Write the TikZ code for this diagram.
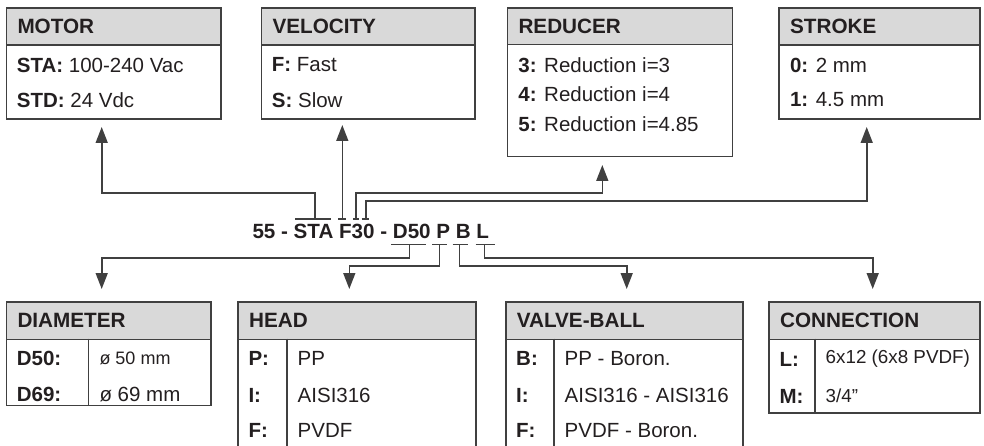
\documentclass[tikz,border=0pt]{standalone}
\usepackage{fontspec}
\setmainfont{Liberation Sans}
\usetikzlibrary{positioning,arrows.meta}
\definecolor{ink}{RGB}{35,31,32}
\definecolor{rulegray}{RGB}{64,64,64}
\definecolor{headgray}{RGB}{217,217,217}
\newcommand{\codefont}{\fontsize{20.6}{24}\selectfont\bfseries}
\newcommand{\smallval}{\fontsize{18}{22}\selectfont}

\begin{document}
\begin{tikzpicture}[x=1pt,y=-1pt,
  >={Triangle[length=16pt,width=12pt]},
  font=\fontsize{20.5}{24}\selectfont, text=ink,
  boxhead/.style ={draw=rulegray,line width=1.6pt,fill=headgray,anchor=north west,
                   inner xsep=11pt,inner ysep=0pt,align=left,
                   font=\fontsize{20.7}{24}\selectfont\bfseries},
  boxbody/.style ={draw=rulegray,line width=1.6pt,anchor=north west,inner sep=0pt},
  item/.style    ={anchor=west,inner sep=0pt},
  divider/.style ={draw=rulegray,line width=1.6pt},
  bar/.style     ={draw=rulegray,line width=1.6pt},
  link/.style    ={->,draw=rulegray,line width=1.6pt}]

\clip (0,0) rectangle (984,446);

% --- top row of option boxes ---
\node[boxhead,text width=192.3pt,minimum height=37pt] (motor) at (5.7,7.3) {MOTOR};
\node[boxbody,minimum width=214.3pt,minimum height=73.7pt] (motorbody) at (5.7,44.3) {};
\node[item] (motorsta) at (16.7,65)  {\textbf{STA:} 100-240 Vac};
\node[item] (motorstd) at (16.7,100) {\textbf{STD:} 24 Vdc};

\node[boxhead,text width=191.6pt,minimum height=37pt] (velocity) at (260.7,7.3) {VELOCITY};
\node[boxbody,minimum width=213.6pt,minimum height=73.7pt] (velocitybody) at (260.7,44.3) {};
\node[item] (velfast) at (271.7,65)  {\textbf{F:} Fast};
\node[item] (velslow) at (271.7,100) {\textbf{S:} Slow};

\node[boxhead,text width=203pt,minimum height=36.5pt] (reducer) at (506.7,7.3) {REDUCER};
\node[boxbody,minimum width=225pt,minimum height=111.9pt] (reducerbody) at (506.7,43.8) {};
\node[item] (redthree) at (518.2,65)  {\textbf{3:} Reduction i=3};
\node[item] (redfour)  at (518.2,94)  {\textbf{4:} Reduction i=4};
\node[item] (redfive)  at (518.2,124) {\textbf{5:} Reduction i=4.85};

\node[boxhead,text width=178.7pt,minimum height=37pt] (stroke) at (778.3,7.3) {STROKE};
\node[boxbody,minimum width=200.7pt,minimum height=73.7pt] (strokebody) at (778.3,44.3) {};
\node[item] (strzero) at (789.8,65)  {\textbf{0:} 2 mm};
\node[item] (strone)  at (789.8,100) {\textbf{1:} 4.5 mm};

% --- bottom row of option boxes ---
\node[boxhead,text width=182.3pt,minimum height=37.5pt] (diameter) at (5.7,301) {DIAMETER};
\node[boxbody,minimum width=204.3pt,minimum height=66pt] (diameterbody) at (5.7,338.5) {};
\draw[divider] (88.3,0 |- diameterbody.north) -- (88.3,0 |- diameterbody.south);
\node[item] (diafifty)  at (16.7,358.3) {\textbf{D50:}};
\node[item] (diasixty)  at (16.7,394.5) {\textbf{D69:}};
\node[item] (diafiftyv) at (99.3,358.3) {\smallval ø 50 mm};
\node[item] (diasixtyv) at (99.3,394.5) {ø 69 mm};

\node[boxhead,text width=215.7pt,minimum height=37.5pt] (head) at (237.3,301) {HEAD};
\node[boxbody,minimum width=237.7pt,minimum height=131.5pt] (headbody) at (237.3,338.5) {};
\draw[divider] (286.7,0 |- headbody.north) -- (286.7,0 |- headbody.south);
\node[item] (headp)  at (248.3,358.3) {\textbf{P:}};
\node[item] (headi)  at (248.3,395)   {\textbf{I:}};
\node[item] (headf)  at (248.3,430.7) {\textbf{F:}};
\node[item] (headpv) at (297.5,358.3) {PP};
\node[item] (headiv) at (297.5,395)   {AISI316};
\node[item] (headfv) at (297.5,430.7) {PVDF};

\node[boxhead,text width=215.3pt,minimum height=37.5pt] (valve) at (505,301) {VALVE-BALL};
\node[boxbody,minimum width=237.3pt,minimum height=131.5pt] (valvebody) at (505,338.5) {};
\draw[divider] (554,0 |- valvebody.north) -- (554,0 |- valvebody.south);
\node[item] (valveb)  at (516,358.3) {\textbf{B:}};
\node[item] (valvei)  at (516,395)   {\textbf{I:}};
\node[item] (valvef)  at (516,430.7) {\textbf{F:}};
\node[item] (valvebv) at (564.5,358.3) {PP - Boron.};
\node[item] (valveiv) at (564.5,395)   {AISI316 - AISI316};
\node[item] (valvefv) at (564.5,430.7) {PVDF - Boron.};

\node[boxhead,text width=188.7pt,minimum height=37.5pt] (connection) at (768.3,301) {CONNECTION};
\node[boxbody,minimum width=210.7pt,minimum height=73.5pt] (connectionbody) at (768.3,338.5) {};
\draw[divider] (814.7,0 |- connectionbody.north) -- (814.7,0 |- connectionbody.south);
\node[item] (connl)  at (779.3,359) {\textbf{L:}};
\node[item] (connm)  at (779.3,396) {\textbf{M:}};
\node[item] (connlv) at (825.5,359) {\fontsize{18.8}{22}\selectfont 6x12 (6x8 PVDF)};
\node[item] (connmv) at (825.5,396) {\fontsize{18.8}{22}\selectfont 3/4”};

% --- the order code ---
\node[anchor=base west,inner sep=0pt,font=\codefont] (code) at (252.3,238.5)
  {55 - STA F30 - D50 P B L};

% --- marker bars over and under the code ---
\coordinate (tSTA) at (315,219);
\coordinate (tF)   at (342.3,219);
\coordinate (tR)   at (356,219);
\coordinate (tS)   at (366,219);
\draw[bar] (295,219)   -- (330.7,219);
\draw[bar] (338,219)   -- (345.7,219);
\draw[bar] (353.3,219) -- (359.3,219);
\draw[bar] (361.7,219) -- (369,219);

\coordinate (tD) at (409.3,244.5);
\coordinate (tP) at (439.3,244.5);
\coordinate (tB) at (459.3,244.5);
\coordinate (tL) at (484.3,244.5);
\draw[bar] (391,244.5)   -- (425.7,244.5);
\draw[bar] (432.3,244.5) -- (446.7,244.5);
\draw[bar] (452.7,244.5) -- (467.7,244.5);
\draw[bar] (475.7,244.5) -- (495,244.5);

% --- arrow ends below / above the boxes ---
\coordinate (motorin)    at (101.7,127);
\coordinate (velocityin) at (342.3,125);
\coordinate (reducerin)  at (602.3,165);
\coordinate (strokein)   at (866.7,127);
\coordinate (diameterin) at (101.7,289);
\coordinate (headin)     at (349.3,289);
\coordinate (valvein)    at (626.7,289);
\coordinate (connin)     at (872.7,289);

% --- connectors ---
\draw[link] (tSTA) -- (tSTA |- 0,193.3) -| (motorin);
\draw[link] (tF) -- (velocityin);
\draw[link] (tR) -- (tR |- 0,193.3) -| (reducerin);
\draw[link] (tS) -- (tS |- 0,201) -| (strokein);

\draw[link] (tD) -- (tD |- 0,257.7) -| (diameterin);
\draw[link] (tP) -- (tP |- 0,265.7) -| (headin);
\draw[link] (tB) -- (tB |- 0,265.7) -| (valvein);
\draw[link] (tL) -- (tL |- 0,257.7) -| (connin);

\end{tikzpicture}
\end{document}
